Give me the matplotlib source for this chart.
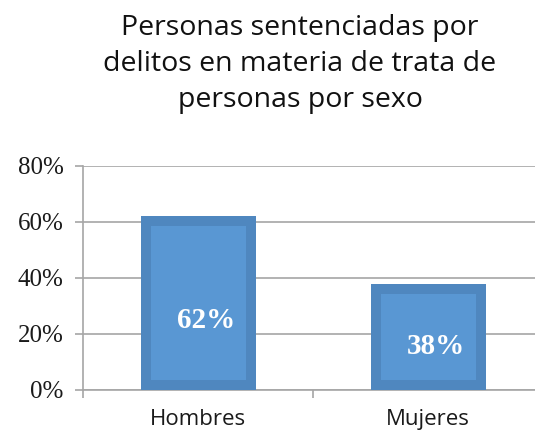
import matplotlib
matplotlib.use("Agg")
import matplotlib.pyplot as plt
import numpy as np

categorias = ["Hombres", "Mujeres"]
valores = [0.62, 0.38]
etiquetas = ["62%", "38%"]
yticks = [0, 0.2, 0.4, 0.6, 0.8]
ytick_labels = ["0%", "20%", "40%", "60%", "80%"]
titulo = "Personas sentenciadas por\ndelitos en materia de trata de\npersonas por sexo"

W, H = 535, 438
fig = plt.figure(figsize=(W / 100, H / 100), dpi=100)
# axes in pixels: x from 83 (extends past right edge), y 0% at 390, 80% at 166
ax_w_px, ax_h_px = 460, 224
ax = fig.add_axes([83 / W, (H - 390) / H, ax_w_px / W, ax_h_px / H])
ax.set_xlim(0, 2)
ax.set_ylim(0, 0.8)

x = np.arange(len(categorias)) + 0.5
ancho = 0.5
# inset of 10 px for inner lighter fill
dx = 10 / (ax_w_px / 2)
dy = 10 / ax_h_px * 0.8
ax.bar(x, valores, width=ancho, color="#4F87BF", zorder=3)
ax.bar(x, [v - 2 * dy for v in valores], bottom=dy, width=ancho - 2 * dx,
       color="#5997D3", zorder=4)

for xi, v, t in zip(x, valores, etiquetas):
    ax.text(xi + 0.035, 0.25 if v > 0.5 else 0.155, t, ha="center", va="center",
            color="white", fontsize=21, fontweight="bold",
            family="Liberation Serif", zorder=5)

ax.set_yticks(yticks)
ax.set_yticklabels(ytick_labels, family="Liberation Serif", fontsize=18, color="#1a1a1a")
ax.yaxis.grid(True, color="#A6A6A6", linewidth=1.2, zorder=0)
ax.set_xticks([0, 1, 2])
ax.set_xticklabels([])
ax.set_xticks(x, minor=True)
ax.set_xticklabels(categorias, minor=True, family="Open Sans", fontsize=16, color="#1a1a1a")
ax.tick_params(axis="x", which="minor", length=0, pad=14)
ax.tick_params(axis="x", which="major", length=6, color="#A6A6A6", width=1.2)
ax.tick_params(axis="y", length=6, color="#A6A6A6", width=1.2, pad=8)

for s in ["top", "right"]:
    ax.spines[s].set_visible(False)
for s in ["left", "bottom"]:
    ax.spines[s].set_color("#A6A6A6")
    ax.spines[s].set_linewidth(1.2)

fig.text(300 / W, 1 - 64 / H, titulo, ha="center", va="center",
         family="Open Sans", fontsize=20.5, linespacing=1.4, color="#111111")

fig.savefig("out.png", dpi=100)
